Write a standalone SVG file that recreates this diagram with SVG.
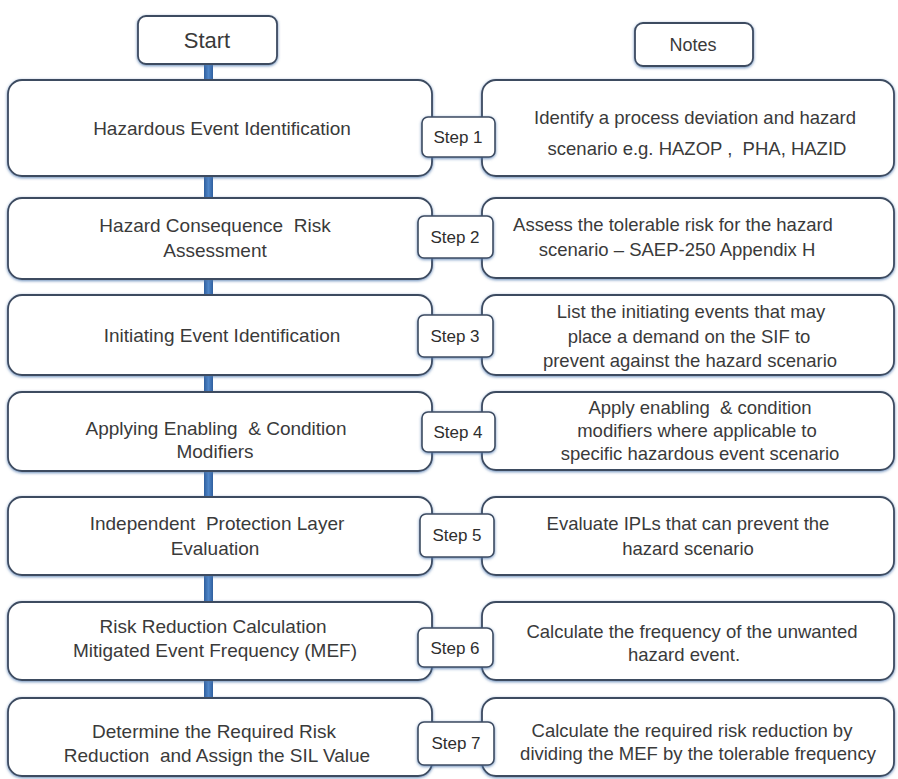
<svg xmlns="http://www.w3.org/2000/svg" width="898" height="779" viewBox="0 0 898 779">
<defs>
<filter id="sh" x="-10%" y="-20%" width="120%" height="140%">
<feDropShadow dx="0" dy="1" stdDeviation="1.6" flood-color="#4f78ad" flood-opacity="0.85"/>
</filter>
<linearGradient id="bar" x1="0" y1="0" x2="1" y2="0">
<stop offset="0" stop-color="#2f5f9e"/>
<stop offset="0.5" stop-color="#4f86c8"/>
<stop offset="1" stop-color="#2f5f9e"/>
</linearGradient>
</defs>
<style>
.box{fill:#fff;stroke:#3e4b60;stroke-width:1.8;filter:url(#sh)}
.tab{fill:#fff;stroke:#3e4b60;stroke-width:1.6;filter:url(#sh)}
.t{font-family:"Liberation Sans",Arial,sans-serif;font-size:19px;fill:#3a3a3a;text-anchor:middle;white-space:pre}
.n{font-family:"Liberation Sans",Arial,sans-serif;font-size:18.5px;fill:#3a3a3a;text-anchor:middle;white-space:pre}
.s{font-family:"Liberation Sans",Arial,sans-serif;font-size:17px;fill:#2e2e2e;text-anchor:middle}
.bar{fill:url(#bar)}
</style>
<rect width="898" height="779" fill="#fff"/>
<g id="connectors">
<rect class="bar" x="204" y="62" width="9" height="20"/>
<rect class="bar" x="204" y="174" width="9" height="26"/>
<rect class="bar" x="204" y="277" width="9" height="20"/>
<rect class="bar" x="204" y="373" width="9" height="21"/>
<rect class="bar" x="204" y="469" width="9" height="30"/>
<rect class="bar" x="204" y="573" width="9" height="31"/>
<rect class="bar" x="204" y="678" width="9" height="22"/>
</g>
<g id="start">
<rect class="box" x="138" y="16" width="139" height="48" rx="8"/>
<text class="t" x="207" y="48" style="font-size:22px">Start</text>
</g>
<g id="notes">
<rect class="box" x="635" y="23" width="118" height="43" rx="8"/>
<text class="t" x="693" y="51" style="font-size:18px">Notes</text>
</g>
<g id="step1">
<rect class="box" x="8" y="80" width="424" height="96" rx="14"/>
<text class="t" x="222" y="135">Hazardous Event Identification</text>
</g>
<g id="note1">
<rect class="box" x="482" y="80" width="412" height="96" rx="14"/>
<text class="n" x="695" y="124">Identify a process deviation and hazard</text>
<text class="n" x="697" y="155">scenario e.g. HAZOP ,  PHA, HAZID</text>
</g>
<g id="step2">
<rect class="box" x="8" y="198" width="424" height="81" rx="14"/>
<text class="t" x="215" y="232">Hazard Consequence  Risk</text>
<text class="t" x="215" y="257">Assessment</text>
</g>
<g id="note2">
<rect class="box" x="482" y="198" width="412" height="80" rx="14"/>
<text class="n" x="673" y="231">Assess the tolerable risk for the hazard</text>
<text class="n" x="677" y="256">scenario – SAEP-250 Appendix H</text>
</g>
<g id="step3">
<rect class="box" x="8" y="295" width="424" height="80" rx="14"/>
<text class="t" x="222" y="342">Initiating Event Identification</text>
</g>
<g id="note3">
<rect class="box" x="482" y="295" width="412" height="80" rx="14"/>
<text class="n" x="691" y="318">List the initiating events that may</text>
<text class="n" x="689" y="343">place a demand on the SIF to</text>
<text class="n" x="690" y="367">prevent against the hazard scenario</text>
</g>
<g id="step4">
<rect class="box" x="8" y="392" width="424" height="79" rx="14"/>
<text class="t" x="216" y="435">Applying Enabling  &amp; Condition</text>
<text class="t" x="215" y="458">Modifiers</text>
</g>
<g id="note4">
<rect class="box" x="482" y="392" width="412" height="78" rx="14"/>
<text class="n" x="700" y="414">Apply enabling  &amp; condition</text>
<text class="n" x="697" y="437">modifiers where applicable to</text>
<text class="n" x="700" y="460">specific hazardous event scenario</text>
</g>
<g id="step5">
<rect class="box" x="8" y="497" width="424" height="78" rx="14"/>
<text class="t" x="217" y="530">Independent  Protection Layer</text>
<text class="t" x="215" y="555">Evaluation</text>
</g>
<g id="note5">
<rect class="box" x="482" y="497" width="412" height="78" rx="14"/>
<text class="n" x="688" y="530">Evaluate IPLs that can prevent the</text>
<text class="n" x="688" y="555">hazard scenario</text>
</g>
<g id="step6">
<rect class="box" x="8" y="602" width="424" height="78" rx="14"/>
<text class="t" x="213" y="633">Risk Reduction Calculation</text>
<text class="t" x="215" y="657">Mitigated Event Frequency (MEF)</text>
</g>
<g id="note6">
<rect class="box" x="482" y="602" width="412" height="78" rx="14"/>
<text class="n" x="692" y="638">Calculate the frequency of the unwanted</text>
<text class="n" x="684" y="661">hazard event.</text>
</g>
<g id="step7">
<rect class="box" x="8" y="698" width="424" height="78" rx="14"/>
<text class="t" x="214" y="738">Determine the Required Risk</text>
<text class="t" x="217" y="762">Reduction  and Assign the SIL Value</text>
</g>
<g id="note7">
<rect class="box" x="482" y="698" width="412" height="78" rx="14"/>
<text class="n" x="692" y="737">Calculate the required risk reduction by</text>
<text class="n" x="698" y="760">dividing the MEF by the tolerable frequency</text>
</g>
<g id="tab1"><rect class="tab" x="422" y="117" width="73" height="40" rx="6"/><text class="s" x="458" y="143">Step 1</text></g>
<g id="tab2"><rect class="tab" x="418" y="216" width="75" height="42" rx="6"/><text class="s" x="455" y="243">Step 2</text></g>
<g id="tab3"><rect class="tab" x="418" y="315" width="75" height="42" rx="6"/><text class="s" x="455" y="342">Step 3</text></g>
<g id="tab4"><rect class="tab" x="422" y="412" width="73" height="40" rx="6"/><text class="s" x="458" y="438">Step 4</text></g>
<g id="tab5"><rect class="tab" x="420" y="514" width="74" height="43" rx="6"/><text class="s" x="457" y="541">Step 5</text></g>
<g id="tab6"><rect class="tab" x="418" y="628" width="75" height="39" rx="6"/><text class="s" x="455" y="654">Step 6</text></g>
<g id="tab7"><rect class="tab" x="418" y="722" width="76" height="43" rx="6"/><text class="s" x="456" y="749">Step 7</text></g>
</svg>
